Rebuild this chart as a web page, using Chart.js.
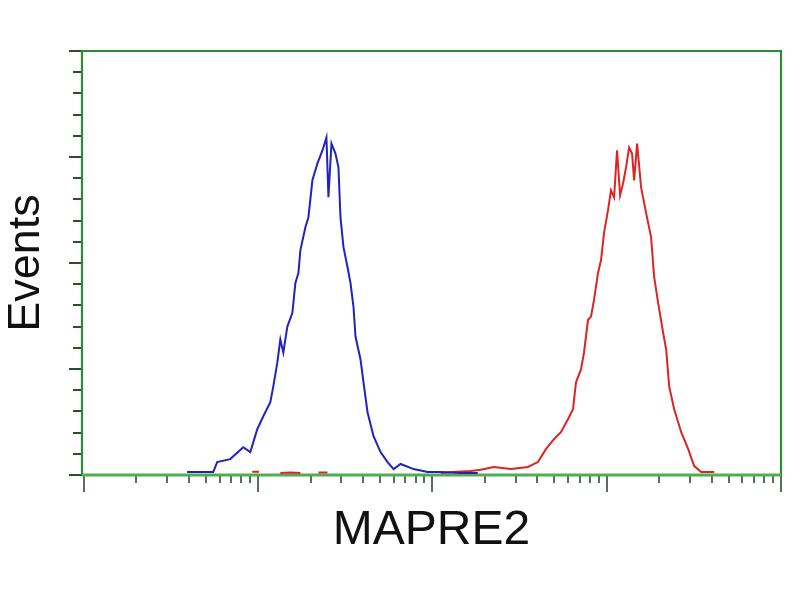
<!DOCTYPE html>
<html><head><meta charset="utf-8">
<script src="https://cdn.jsdelivr.net/npm/chart.js@4/dist/chart.umd.min.js"></script>
<style>html,body{margin:0;padding:0;background:#fff}</style>
</head><body>
<canvas id="c" width="800" height="600"></canvas>
<script>
const xTitle = 'MAPRE2';
const yTitle = 'Events';

// Blue histogram (fluorescence value, events)
const blueX = [3.91,5.52,5.82,6.91,8.21,9.01,9.88,10.7,11.74,12.21,12.88,13.40,13.94,14.70,15.71,16.35,17.01,17.47,18.66,19.42,20.47,21.88,23.37,24.64,25.30,26.33,27.76,28.88,29.66,30.86,32.54,33.85,35.23,36.17,38.65,40.21,42.40,45.91,50.37,55.26,59.83,65.63,77.98,93.85,111.5,145.3,182];
const blueY = [1.4,1.4,6.1,7.5,13.1,10.8,21.6,27.7,34.3,41.8,53.1,63.9,57.7,70.0,76.5,90.6,95.3,106.1,116.9,121.6,139.0,147.0,153.1,159.2,131.0,156.3,151.6,145.1,121.6,107.5,98.1,90.6,79.3,65.3,54.5,43.7,29.6,18.3,10.8,6.1,2.8,5.2,2.8,1.4,1.4,0.9,0.9];

// Red histogram (null = no events, gap)
const redX = [9.25,10.1,11.0,13.4,15.3,17.47,18.5,22.16,24.97,26.0,111.5,130,165.9,189.3,224.9,281.7,352.7,402.7,447.7,497.6,546.0,599.1,640.3,666.2,711.7,740.6,780.9,812.4,845.3,891.3,927.4,965,1017,1058,1102,1146,1193,1241,1291,1344,1398,1436,1494,1575,1683,1797,1871,1972,2107,2193,2282,2438,2675,2935,3177,3485,4140];
const redY = [1.5,1.5,null,1.0,1.2,1.0,null,1.2,1.2,null,0.9,1.4,1.9,2.5,3.8,2.8,3.8,6.1,12.2,16.9,20.2,26.3,31.0,43.7,49.8,57.7,73.2,74.7,82.6,95.3,101.4,114.1,124.9,134.3,131.0,153.1,131.9,137.6,145.1,154.5,151.6,139.0,156.3,135.7,123.5,112.2,93.4,81.2,67.1,59.2,41.8,31.0,20.2,12.2,4.2,1.4,1.4];

// Axis tick values (no labels shown)
const yTickValues = [0,10,20,30,40,50,60,70,80,90,100,110,120,130,140,150,160,170,180,190,200];
const yMajorTickValues = [0,50,100,150,200];
const xDecades = [1,10,100,1000,10000];
const xMinorMultipliers = [2,3,4,5,6,7,8,9];

const framePlugin = {
  id: 'frame',
  beforeDatasetsDraw(chart) {
    const {ctx, chartArea: a, scales: {x, y}} = chart;
    ctx.save();
    const line = (x1, y1, x2, y2) => { ctx.beginPath(); ctx.moveTo(x1, y1); ctx.lineTo(x2, y2); ctx.stroke(); };
    ctx.strokeStyle = '#2a4f2a';
    ctx.lineWidth = 2;
    yTickValues.forEach(v => {
      const py = Math.round(y.getPixelForValue(v));
      const len = yMajorTickValues.includes(v) ? 13 : 9;
      line(a.left - len, py, a.left, py);
    });
    ctx.lineWidth = 1.6;
    xDecades.forEach(d => {
      const px = Math.round(x.getPixelForValue(d));
      line(px, a.bottom, px, a.bottom + 17);
      if (d < 10000) {
        xMinorMultipliers.forEach(m => {
          const pm = Math.round(x.getPixelForValue(d * m));
          line(pm, a.bottom, pm, a.bottom + 8);
        });
      }
    });
    ctx.strokeStyle = '#2f8a38';
    ctx.lineWidth = 2.2;
    ctx.beginPath();
    ctx.moveTo(a.left, a.bottom);
    ctx.lineTo(a.left, a.top);
    ctx.lineTo(a.right, a.top);
    ctx.lineTo(a.right, a.bottom);
    ctx.stroke();
    ctx.strokeStyle = '#4fae4f';
    ctx.lineWidth = 3;
    line(a.left, a.bottom, a.right, a.bottom);
    ctx.restore();
  }
};

const toPts = (xs, ys) => xs.map((v, i) => ({x: v, y: ys[i]}));

new Chart(document.getElementById('c'), {
  type: 'line',
  data: {
    datasets: [
      {data: toPts(blueX, blueY), borderColor: '#2222c0', borderWidth: 2, pointRadius: 0, tension: 0, spanGaps: false},
      {data: toPts(redX, redY), borderColor: '#dc2424', borderWidth: 2, pointRadius: 0, tension: 0, spanGaps: false}
    ]
  },
  options: {
    responsive: false,
    animation: false,
    events: [],
    layout: {padding: {top: 51, right: 19, left: 0, bottom: 0}},
    plugins: {legend: {display: false}, tooltip: {enabled: false}},
    scales: {
      x: {
        type: 'logarithmic', min: 0.975, max: 10000,
        grid: {display: false}, border: {display: false}, ticks: {display: false},
        title: {display: true, text: xTitle, color: '#111',
                font: {family: "'Liberation Sans', Arial, sans-serif", size: 48, weight: 'normal'},
                padding: {top: 0, bottom: 40}},
        afterFit: s => { s.height = 125; }
      },
      y: {
        type: 'linear', min: 0, max: 200,
        grid: {display: false}, border: {display: false}, ticks: {display: false},
        title: {display: true, text: yTitle, color: '#111',
                font: {family: "'Liberation Sans', Arial, sans-serif", size: 45, weight: 'normal'},
                padding: {top: 0, bottom: 0}},
        afterFit: s => { s.width = 82; }
      }
    }
  },
  plugins: [framePlugin]
});
</script>
</body></html>
